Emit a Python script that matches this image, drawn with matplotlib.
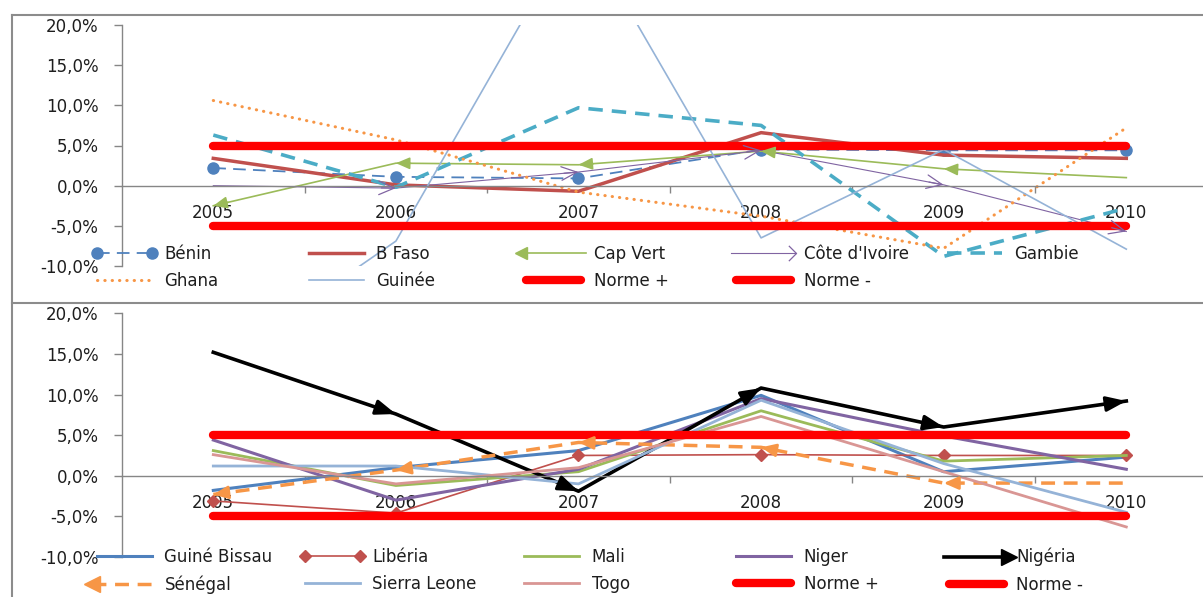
import matplotlib
matplotlib.use('Agg')
import matplotlib.pyplot as plt
from matplotlib.lines import Line2D
from matplotlib.path import Path
from matplotlib.legend_handler import HandlerLine2D
from matplotlib.ticker import FixedLocator, FuncFormatter, NullFormatter

W, H = 1203, 597

years = ['2005', '2006', '2007', '2008', '2009', '2010']

# taux annuels en %
benin = [2.2, 1.1, 0.9, 4.5, 4.4, 4.4]
b_faso = [3.4, 0.1, -0.7, 6.6, 3.8, 3.4]
cap_vert = [-2.5, 2.8, 2.6, 4.3, 2.1, 1.0]
cote_ivoire = [0.0, -0.3, 1.7, 4.4, 0.1, -5.7]
gambie = [6.3, -0.2, 9.7, 7.5, -8.8, -2.8]
ghana = [10.6, 5.7, -0.8, -3.8, -7.8, 7.2]
guinee = [-22.6, -6.9, 32.7, -6.5, 4.5, -7.9]

guine_bissau = [-1.8, 1.0, 3.1, 9.9, 0.5, 2.3]
liberia = [-3.1, -4.6, 2.5, 2.6, 2.5, 2.5]
mali = [3.1, -1.2, 0.5, 8.0, 1.8, 2.5]
niger = [4.4, -3.0, 0.8, 9.5, 4.9, 0.8]
nigeria = [15.2, 7.6, -1.9, 10.8, 6.0, 9.2]
senegal = [-2.3, 0.7, 4.1, 3.5, -0.9, -0.9]
sierra_leone = [1.2, 1.2, -1.0, 9.3, 1.5, -4.5]
togo = [2.6, -1.0, 1.0, 7.3, 0.5, -6.3]

norme_plus = [5.0, 5.0, 5.0, 5.0, 5.0, 5.0]
norme_moins = [-5.0, -5.0, -5.0, -5.0, -5.0, -5.0]

BLUE = '#4F81BD'
RED = '#C0504D'
GREEN = '#9BBB59'
PURPLE = '#8064A2'
TEAL = '#4BACC6'
ORANGE = '#F79646'
LIGHTBLUE = '#95B3D7'
PINK = '#D99694'
NORME = '#FF0000'
GRAY = '#868686'
TXT = '#1e1e1e'

plt.rcParams['font.family'] = 'DejaVu Sans'
plt.rcParams['font.size'] = 12

open_arrow = Path([(-1, 1), (0, 0), (-1, -1)], [Path.MOVETO, Path.LINETO, Path.LINETO])


class HandlerEndMarker(HandlerLine2D):
    """Legend line with a single marker at one end (arrow heads)."""

    def __init__(self, end=-1, **kw):
        super().__init__(**kw)
        self.end = end

    def create_artists(self, legend, orig_handle, xdescent, ydescent, width,
                       height, fontsize, trans):
        artists = super().create_artists(legend, orig_handle, xdescent, ydescent,
                                         width, height, fontsize, trans)
        line = artists[0]
        xs = list(line.get_xdata())
        ys = list(line.get_ydata())
        # stretch the line to the full handle width, marker on one end only
        xs[0] = -xdescent
        xs[-1] = width - xdescent
        line.set_data(xs, ys)
        line.set_markevery([0 if self.end == 0 else len(xs) - 1])
        return artists


def setup_axis(ax):
    n = len(years)
    ax.set_xlim(-0.5, n - 0.5)
    ax.set_ylim(-10, 20)
    ax.set_yticks([-10, -5, 0, 5, 10, 15, 20])
    ax.yaxis.set_major_formatter(FuncFormatter(lambda v, p: f"{v:.1f}%".replace('.', ',')))
    ax.spines['top'].set_visible(False)
    ax.spines['right'].set_visible(False)
    ax.spines['bottom'].set_position(('data', 0))
    for s in ('left', 'bottom'):
        ax.spines[s].set_color(GRAY)
        ax.spines[s].set_linewidth(1)
    ax.xaxis.set_major_locator(FixedLocator([i + 0.5 for i in range(n)]))
    ax.xaxis.set_major_formatter(NullFormatter())
    ax.xaxis.set_minor_locator(FixedLocator(list(range(n))))
    ax.set_xticklabels(years, minor=True)
    ax.tick_params(axis='x', which='major', length=5, width=1, color=GRAY)
    ax.tick_params(axis='x', which='minor', length=0, pad=13, labelsize=12, labelcolor=TXT)
    ax.tick_params(axis='y', length=6, width=1, color=GRAY, pad=11, labelsize=12, labelcolor=TXT)
    ax.patch.set_alpha(0)


def add_heads(ax, values, color, lw, at_start=False, open_head=False, style_args='', size=14):
    style = ('->' if open_head else '-|>') + style_args
    for i in range(len(values) - 1):
        p0 = (i, values[i])
        p1 = (i + 1, values[i + 1])
        tip, tail = (p0, p1) if at_start else (p1, p0)
        back = (tip[0] + 0.08 * (tail[0] - tip[0]), tip[1] + 0.08 * (tail[1] - tip[1]))
        ax.annotate('', xy=tip, xytext=back,
                    arrowprops=dict(arrowstyle=style, color=color, lw=lw,
                                    shrinkA=0, shrinkB=0, mutation_scale=size))


def column_legends(fig, handles, labels, cols_px, top_px, handler_map):
    for c, x in enumerate(cols_px):
        hs = handles[c::5]
        ls = labels[c::5]
        fig.legend(hs, ls, loc='upper left', bbox_to_anchor=(x / W, 1 - top_px / H),
                   frameon=False, ncol=1, handlelength=3.9, handletextpad=0.45,
                   borderpad=0, borderaxespad=0, labelspacing=0.55, numpoints=2,
                   fontsize=12, labelcolor=TXT, handler_map=handler_map)


fig = plt.figure(figsize=(W / 100, H / 100), dpi=100)
x = list(range(len(years)))

# ---- premier graphique
ax1 = fig.add_axes([122 / W, 1 - 266 / H, 1095.6 / W, 241 / H])
setup_axis(ax1)
l_benin, = ax1.plot(x, benin, color=BLUE, lw=1.3, ls=(0, (7, 4)), marker='o', ms=8)
l_bfaso, = ax1.plot(x, b_faso, color=RED, lw=2.5)
ax1.plot(x, cap_vert, color=GREEN, lw=1.2)
add_heads(ax1, cap_vert, GREEN, 1.2, at_start=True, style_args=',head_length=0.7,head_width=0.3', size=12)
ax1.plot(x, cote_ivoire, color=PURPLE, lw=0.8)
add_heads(ax1, cote_ivoire, PURPLE, 0.9, open_head=True, style_args=',head_length=0.8,head_width=0.35', size=14)
l_gambie, = ax1.plot(x, gambie, color=TEAL, lw=2.6, ls=(0, (4, 2.5)))
l_ghana, = ax1.plot(x, ghana, color=ORANGE, lw=2.2, ls=(0, (0.1, 2.3)), dash_capstyle='round')
l_guinee, = ax1.plot(x, guinee, color=LIGHTBLUE, lw=1.2)
l_np1, = ax1.plot(x, norme_plus, color=NORME, lw=6, solid_capstyle='round')
l_nm1, = ax1.plot(x, norme_moins, color=NORME, lw=6, solid_capstyle='round')

h_capvert = Line2D([], [], color=GREEN, lw=1.2, marker='<', ms=9)
h_cote = Line2D([], [], color=PURPLE, lw=0.8, marker=open_arrow, ms=11,
                mfc='none', mec=PURPLE, mew=0.9)
top_handles = [l_benin, l_bfaso, h_capvert, h_cote, l_gambie,
               l_ghana, l_guinee, l_np1, l_nm1]
top_labels = ['Bénin', 'B Faso', 'Cap Vert', "Côte d'Ivoire", 'Gambie',
              'Ghana', 'Guinée', 'Norme +', 'Norme -']
column_legends(fig, top_handles, top_labels, [92, 304, 521, 731, 942], 245,
               {h_capvert: HandlerEndMarker(0), h_cote: HandlerEndMarker(-1)})

# ---- second graphique
ax2 = fig.add_axes([122 / W, 1 - 557 / H, 1095.6 / W, 243.7 / H])
setup_axis(ax2)
l_gb, = ax2.plot(x, guine_bissau, color=BLUE, lw=2.2)
l_lib, = ax2.plot(x, liberia, color=RED, lw=1.2, marker='D', ms=6)
l_mali, = ax2.plot(x, mali, color=GREEN, lw=2.0)
l_niger, = ax2.plot(x, niger, color=PURPLE, lw=2.2)
ax2.plot(x, nigeria, color='black', lw=2.6)
add_heads(ax2, nigeria, 'black', 2.3, style_args=',head_length=0.8,head_width=0.3', size=15)
ax2.plot(x, senegal, color=ORANGE, lw=2.5, ls=(0, (4, 2.5)))
add_heads(ax2, senegal, ORANGE, 2.0, at_start=True, style_args=',head_length=0.8,head_width=0.35', size=11)
l_sl, = ax2.plot(x, sierra_leone, color=LIGHTBLUE, lw=2.0)
l_togo, = ax2.plot(x, togo, color=PINK, lw=2.0)
l_np2, = ax2.plot(x, norme_plus, color=NORME, lw=6, solid_capstyle='round')
l_nm2, = ax2.plot(x, norme_moins, color=NORME, lw=6, solid_capstyle='round')

h_nigeria = Line2D([], [], color='black', lw=2.6, marker='>', ms=11)
h_senegal = Line2D([], [], color=ORANGE, lw=2.5, ls=(0, (4, 2.5)), marker='<', ms=11)
bot_handles = [l_gb, l_lib, l_mali, l_niger, h_nigeria,
               h_senegal, l_sl, l_togo, l_np2, l_nm2]
bot_labels = ['Guiné Bissau', 'Libéria', 'Mali', 'Niger', 'Nigéria',
              'Sénégal', 'Sierra Leone', 'Togo', 'Norme +', 'Norme -']
column_legends(fig, bot_handles, bot_labels, [92, 300, 519, 731, 944], 548,
               {h_nigeria: HandlerEndMarker(-1), h_senegal: HandlerEndMarker(0)})

# cadres
for xs, ys in [([12, W], [15, 15]), ([12, 12], [15, H]), ([12, W], [302.5, 302.5])]:
    fig.add_artist(Line2D([v / W for v in xs], [1 - v / H for v in ys],
                          transform=fig.transFigure, color='#8c8c8c', lw=1.5))

fig.savefig('out.png', dpi=100)
